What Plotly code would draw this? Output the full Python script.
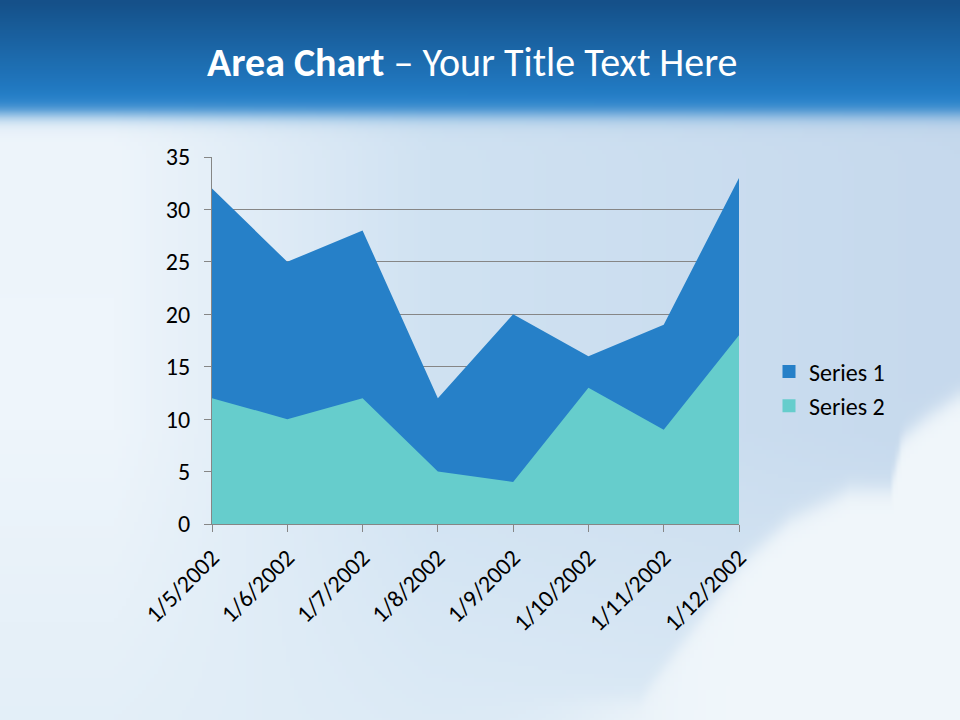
import base64, struct, zlib
import numpy as np
import plotly.graph_objects as go

# ---------------- data ----------------
categories = ["1/5/2002", "1/6/2002", "1/7/2002", "1/8/2002",
              "1/9/2002", "1/10/2002", "1/11/2002", "1/12/2002"]
series1 = [32, 25, 28, 12, 20, 16, 19, 33]
series2 = [12, 10, 12, 5, 4, 13, 9, 18]
series_names = ["Series 1", "Series 2"]
series_colors = ["#2680C8", "#66CDCC"]
y_ticks = [0, 5, 10, 15, 20, 25, 30, 35]

# ---------------- background picture (sky gradient) ----------------
W, H = 960, 720
S = 4
w, h = W // S, H // S
xs = (np.arange(w) + 0.5) * S
ys = (np.arange(h) + 0.5) * S
X, Y = np.meshgrid(xs, ys)

def lerp(a, b, t):
    t = np.clip(t, 0, 1)[..., None]
    return np.array(a, float) * (1 - t) + np.array(b, float) * t

def sig(v, width):
    return 1 / (1 + np.exp(-v / width))

left = (238, 245, 251)
mid = (208, 226, 242)
right = (198, 217, 237)
tx = X / W
body = np.where((tx < 0.45)[..., None],
                lerp(left, mid, (tx - 0.12) / 0.33),
                lerp(mid, right, (tx - 0.45) / 0.55))
tb = np.clip((Y - 430) / 290, 0, 1) * 0.75
body = body * (1 - tb[..., None]) + np.array((224, 237, 247)) * tb[..., None]
cx = [640, 700, 745, 790, 850, 890, 903, 927, 960]
cy = [700, 620, 560, 520, 490, 490, 437, 417, 395]
bound = np.interp(X, cx, cy)
cloud = sig(Y - bound, 6) * sig(X - 600, 40)
body = body * (1 - cloud[..., None]) + np.array((241, 247, 251)) * cloud[..., None]

header = lerp((21, 80, 136), (35, 127, 201), Y / 100)
th = sig(Y - 114, 5)
img = header * (1 - th[..., None]) + body * th[..., None]
img = np.clip(img, 0, 255).astype(np.uint8)

def make_png(arr):
    hh, ww, _ = arr.shape
    raw = b"".join(b"\x00" + arr[r].tobytes() for r in range(hh))
    def chunk(tag, data):
        c = struct.pack(">I", len(data)) + tag + data
        return c + struct.pack(">I", zlib.crc32(tag + data) & 0xFFFFFFFF)
    return (b"\x89PNG\r\n\x1a\n" +
            chunk(b"IHDR", struct.pack(">IIBBBBB", ww, hh, 8, 2, 0, 0, 0)) +
            chunk(b"IDAT", zlib.compress(raw, 9)) +
            chunk(b"IEND", b""))

bg_uri = "data:image/png;base64," + base64.b64encode(make_png(img)).decode()

# ---------------- figure ----------------
FONT = "Calibri, Carlito, Lato, 'Open Sans', sans-serif"
fig = go.Figure()
for name, vals, col in zip(series_names, [series1, series2], series_colors):
    fig.add_trace(go.Scatter(x=categories, y=vals, name=name, mode="none",
                             fill="tozeroy", fillcolor=col,
                             legendgroup=name, showlegend=False))
# legend entries with square swatches
for name, col in zip(series_names, series_colors):
    fig.add_trace(go.Scatter(x=[None], y=[None], name=name, mode="markers",
                             marker=dict(symbol="square", size=13, color=col),
                             legendgroup=name, showlegend=True))

fig.update_layout(
    template="none",
    width=W, height=H, autosize=False,
    margin=dict(l=0, r=0, t=0, b=0, pad=0),
    paper_bgcolor="#d8e8f4",
    plot_bgcolor="rgba(0,0,0,0)",
    font=dict(family=FONT, color="#000000", size=24),
    images=[dict(source=bg_uri, xref="paper", yref="paper", x=0, y=1,
                 sizex=1, sizey=1, sizing="stretch", xanchor="left",
                 yanchor="top", layer="below")],
    xaxis=dict(domain=[212 / W, 739 / W], type="category",
               range=[0, len(categories) - 1], automargin=False,
               showgrid=False, showline=True, linecolor="#868686", linewidth=1,
               ticks="outside", ticklen=7, tickcolor="#868686",
               tickangle=-45, tickfont=dict(size=24), zeroline=False,
               ticklabelstandoff=2),
    yaxis=dict(domain=[1 - 524 / H, 1 - 157 / H], range=[0, 35],
               tickvals=y_ticks, automargin=False,
               showgrid=True, gridcolor="#868686", gridwidth=1,
               showline=True, linecolor="#868686", linewidth=1,
               ticks="outside", ticklen=7, tickcolor="#868686",
               tickfont=dict(size=24), zeroline=False,
               ticklabelstandoff=9),
    legend=dict(x=769 / W, y=1 - 389 / H, xanchor="left", yanchor="middle",
                bgcolor="rgba(0,0,0,0)", font=dict(size=24),
                traceorder="normal", tracegroupgap=12),
    showlegend=True,
    annotations=[dict(text="<b>Area Chart</b> – Your Title Text Here",
                      xref="paper", yref="paper", x=472 / W, y=1 - 62 / H,
                      xanchor="center", yanchor="middle", showarrow=False,
                      font=dict(family=FONT, size=40, color="#ffffff"))],
)

fig.write_html("out.html", config={"displayModeBar": False},
               post_script="document.body.style.margin='0';document.body.style.overflow='hidden';")
